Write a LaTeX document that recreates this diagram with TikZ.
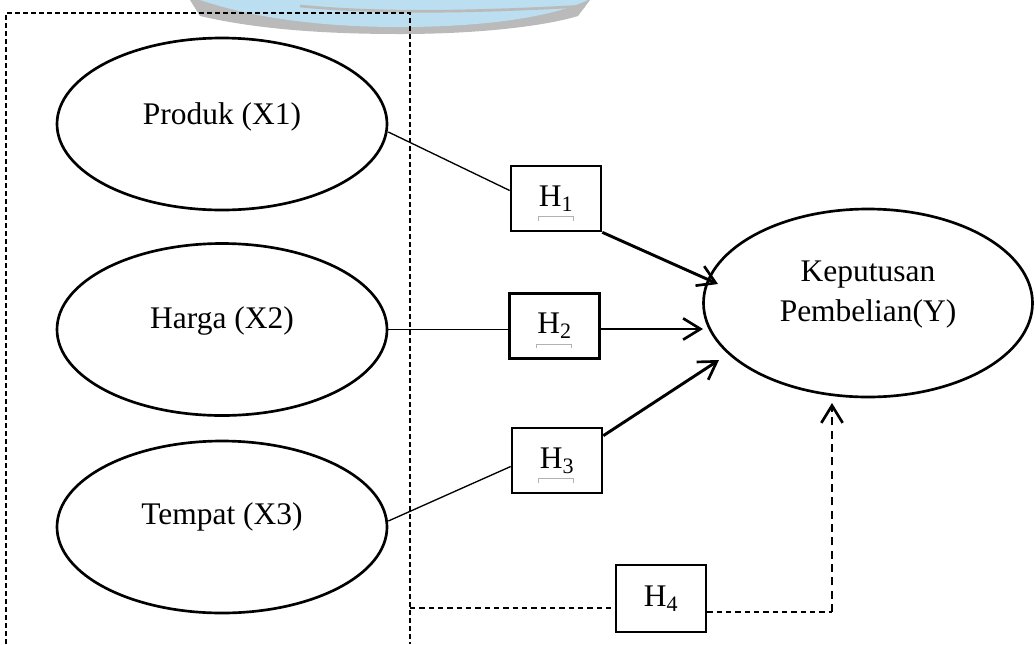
\documentclass[tikz,border=0pt]{standalone}
\usepackage{fontspec}
\setmainfont{Liberation Serif}
\usetikzlibrary{arrows.meta,shapes.geometric,calc}
\definecolor{wmgray}{RGB}{186,186,186}
\definecolor{wmblue}{RGB}{187,222,240}
\begin{document}
\begin{tikzpicture}[x=0.75pt,y=-0.75pt,
  ell/.style={draw,ellipse,line width=2pt,minimum width=247.5pt,minimum height=129pt,inner sep=0pt},
  txt/.style={font=\fontsize{23.6}{30}\selectfont,align=center,inner sep=0pt},
  hbox/.style={draw,line width=2pt,minimum width=67.5pt,minimum height=48.75pt,inner sep=0pt,font=\fontsize{23.6}{30}\selectfont},
  thinline/.style={line width=1pt},
  arr/.style={line width=2.2pt,-{Straight Barb[length=13pt,width=16pt,line width=2pt]}},
  frame/.style={line width=0.9pt,dash pattern=on 3.5pt off 2.5pt},
  h4left/.style={line width=1.2pt,dash pattern=on 4pt off 3pt},
  h4up/.style={line width=2.2pt,dash pattern=on 6pt off 4pt,-{Straight Barb[length=13pt,width=16pt,line width=2pt]}},
  brk/.style={draw=black!30,line width=0.7pt}
]
\useasboundingbox (0,0) rectangle (1035,644);
% faded watermark at the top
\fill[wmgray] (190,0) -- (200,16) .. controls (260,30) and (330,34) .. (400,34) .. controls (480,34) and (545,26) .. (578,16) -- (590,0) -- cycle;
\fill[wmblue] (200,0) .. controls (260,20) and (330,27) .. (400,27) .. controls (480,27) and (550,18) .. (588,0) -- cycle;
\draw[wmgray,line width=2pt] (300,6) .. controls (380,14) and (480,12) .. (585,6);

% dashed frame
\draw[frame] (6,644) -- (6,13) -- (410,13) -- (410,644);

% ellipses
\node[ell] (x1) at (222,124) {};
\node[txt] (x1t) at ($(x1)+(0,-7)$) {Produk (X1)};
\node[ell] (x2) at (222,329.5) {};
\node[txt] (x2t) at ($(x2)+(0,-9)$) {Harga (X2)};
\node[ell] (x3) at (222,527) {};
\node[txt] (x3t) at ($(x3)+(0,-10)$) {Tempat (X3)};
\node[ell,minimum width=246.75pt,minimum height=141pt] (y) at (868,303) {};
\node[txt] (yt) at ($(y)+(0,-8)$) {Keputusan\\Pembelian(Y)};

% hypothesis boxes
\node[hbox] (h1) at (556,198.5) {H\textsubscript{1}};
\node[hbox] (h2) at (554.5,326) {H\textsubscript{2}};
\node[hbox] (h3) at (557,460.5) {H\textsubscript{3}};
\node[hbox,minimum height=50.25pt] (h4) at (661,598.5) {H\textsubscript{4}};

% small gray marks under H1..H3
\draw[brk] ($(h1)+(-18,22)$) -- ++(0,-4) -- ++(35,0) -- ++(0,4);
\draw[brk] ($(h2)+(-18,22)$) -- ++(0,-4) -- ++(35,0) -- ++(0,4);
\draw[brk] ($(h3)+(-19,22)$) -- ++(0,-4) -- ++(35,0) -- ++(0,4);

% arrow tip coordinates
\coordinate (t1) at (718,284);
\coordinate (t2) at (703,329);
\coordinate (t3) at (719,360);
\coordinate (t4) at (832,403);
\coordinate (c4) at (832,612);
\coordinate (r4) at (410,608);

% connectors
\draw[thinline] ($(x1.east)+(0,8)$) -- ($(h1.west)+(0,-8)$);
\draw[arr] (h1.south east) -- (t1);
\draw[thinline] (x2.east) -- (h2.west |- x2.east);
\draw[arr] (h2.east |- t2) -- (t2);
\draw[thinline] ($(x3.east)+(0,-6)$) -- ($(h3.west)+(0,6)$);
\draw[arr] ($(h3.north east)+(0,9)$) -- (t3);
\draw[h4left] (r4) -- (h4.west |- r4);
\draw[h4left] (h4.east |- c4) -- (c4);
\draw[h4up] (c4) -- (t4);
\end{tikzpicture}
\end{document}
